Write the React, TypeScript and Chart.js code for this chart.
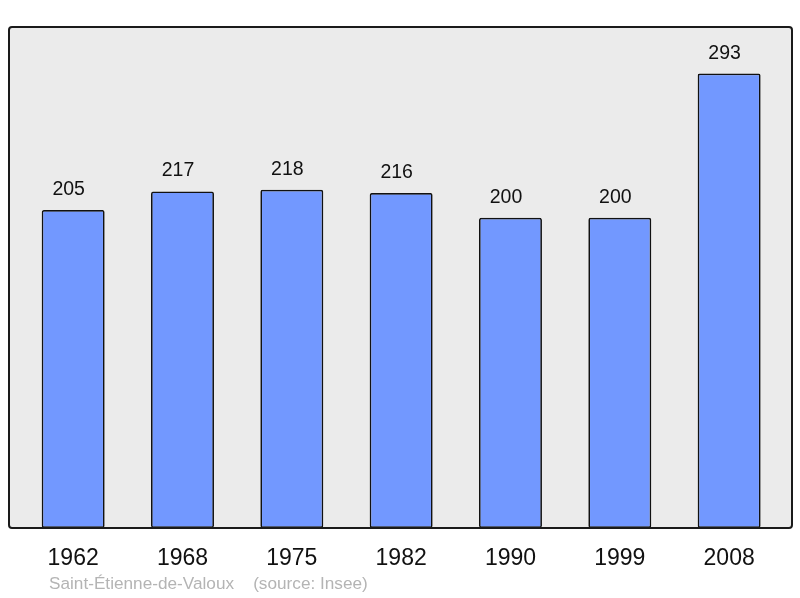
import React, { useEffect, useRef } from "react";
import { Chart, registerables } from "chart.js";

Chart.register(...registerables);

const years = ["1962", "1968", "1975", "1982", "1990", "1999", "2008"];
const population = [205, 217, 218, 216, 200, 200, 293];
const sourceText = "Saint-Étienne-de-Valoux    (source: Insee)";

const FONT = "'Liberation Sans', Arial, sans-serif";

const framePlugin = {
  id: "frame",
  beforeDraw(chart: any) {
    const { ctx, chartArea } = chart;
    ctx.save();
    ctx.fillStyle = "#ebebeb";
    ctx.beginPath();
    ctx.roundRect(9, chartArea.top, 783, chartArea.bottom - chartArea.top, 3);
    ctx.fill();
    ctx.restore();
  },
  afterDatasetsDraw(chart: any) {
    const { ctx, chartArea } = chart;
    ctx.save();
    ctx.strokeStyle = "#1a1a1a";
    ctx.lineWidth = 2;
    ctx.beginPath();
    ctx.roundRect(9, chartArea.top, 783, chartArea.bottom - chartArea.top, 3);
    ctx.stroke();
    // value labels
    const meta = chart.getDatasetMeta(0);
    ctx.fillStyle = "#111";
    ctx.font = `19.5px ${FONT}`;
    ctx.textAlign = "center";
    ctx.textBaseline = "alphabetic";
    meta.data.forEach((bar: any, i: number) => {
      ctx.fillText(String(population[i]), bar.x - 4.5, bar.y - 15);
    });
    // source
    ctx.fillStyle = "#b4b4b4";
    ctx.font = `17.2px ${FONT}`;
    ctx.textAlign = "left";
    ctx.textBaseline = "middle";
    ctx.fillText(sourceText, 49, 584);
    ctx.restore();
  },
};

export default function App() {
  const ref = useRef<HTMLCanvasElement>(null);
  useEffect(() => {
    if (!ref.current) return;
    const chart = new Chart(ref.current, {
      type: "bar",
      data: {
        labels: years,
        datasets: [
          {
            data: population,
            backgroundColor: "#7298ff",
            borderColor: "#111",
            borderWidth: 1.7,
            borderRadius: 2,
            borderSkipped: false,
            barPercentage: 0.576,
            categoryPercentage: 1,
          },
        ],
      },
      options: {
        responsive: false,
        animation: false,
        layout: { padding: { left: 18.5, right: 16.2, top: 27, bottom: 0 } },
        plugins: { legend: { display: false }, tooltip: { enabled: false } },
        scales: {
          x: {
            grid: { display: false, drawTicks: false },
            border: { display: false },
            ticks: { color: "#111", font: { family: FONT, size: 23 }, padding: 16.5 },
            afterFit(scale: any) {
              scale.height = 70;
            },
          },
          y: {
            display: false,
            min: 0,
            max: 323,
          },
        },
      },
      plugins: [framePlugin],
    });
    return () => chart.destroy();
  }, []);
  return (
    <div style={{ position: "fixed", left: 0, top: 0, width: 800, height: 598, background: "#fff" }}>
      <canvas ref={ref} width={800} height={598} style={{ width: 800, height: 598 }} />
    </div>
  );
}
